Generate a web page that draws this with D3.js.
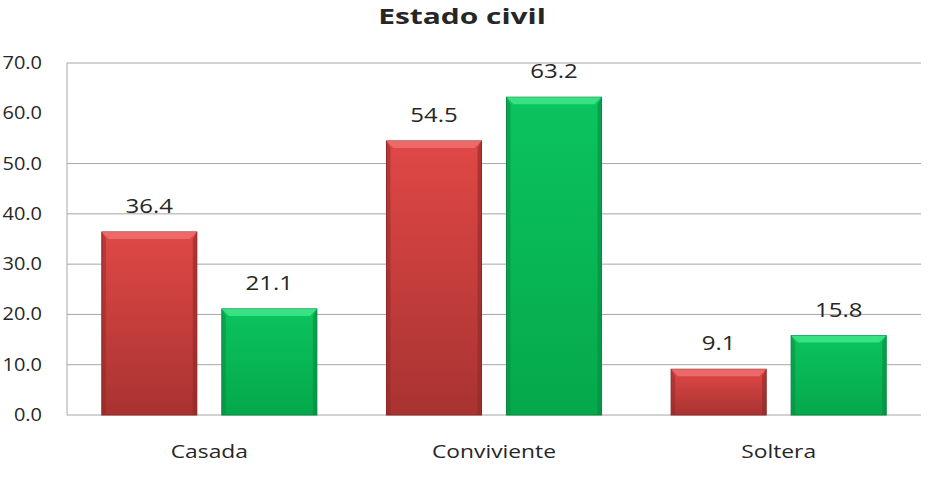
<!DOCTYPE html>
<html>
<head>
<meta charset="utf-8">
<script src="https://cdn.jsdelivr.net/npm/d3@7"></script>
<style>
  body { margin: 0; background: #fff; }
  text { font-family: 'Open Sans', sans-serif; fill: #262626; }
</style>
</head>
<body>
<div id="chart"></div>
<script>
const categories = ['Casada', 'Conviviente', 'Soltera'];
const seriesNames = ['s1', 's2'];
const valuesRed = [36.4, 54.5, 9.1];
const valuesGreen = [21.1, 63.2, 15.8];
const yTicks = [0, 10, 20, 30, 40, 50, 60, 70];
const gridTicks = [0, 10, 20, 30, 40, 50, 70]; // 60 line is not drawn in the original

const w = 933, h = 479;
const margin = { top: 63, right: 12, bottom: 64, left: 67 };
const stretch = 1.2; // the source image is stretched horizontally

const svg = d3.select('#chart').append('svg').attr('width', w).attr('height', h);
const defs = svg.append('defs');

const gradients = {
  s1: ['#e04846', '#a83331'],
  s2: ['#0bc45e', '#05a84c'],
};
Object.entries(gradients).forEach(([k, c]) => {
  const g = defs.append('linearGradient').attr('id', 'g-' + k)
    .attr('x1', 0).attr('y1', 0).attr('x2', 0).attr('y2', 1);
  g.append('stop').attr('offset', '0%').attr('stop-color', c[0]);
  g.append('stop').attr('offset', '100%').attr('stop-color', c[1]);
});
const edge = { s1: '#8e2a28', s2: '#078a40' };
const light = { s1: '#f07070', s2: '#3fe88a' };

const x0 = d3.scaleBand().domain(categories).range([margin.left, w - margin.right]).padding(0);
const x1 = d3.scaleBand().domain(seriesNames).range([0, x0.bandwidth()])
  .paddingInner(0.208).paddingOuter(0.29);
const y = d3.scaleLinear().domain([0, 70]).range([h - margin.bottom, margin.top]);

const place = (x, yy, s = stretch) => `translate(${x},${yy}) scale(${s},1)`;

// grid
svg.append('g').selectAll('line').data(gridTicks).enter().append('line')
  .attr('x1', margin.left).attr('x2', w - margin.right)
  .attr('y1', d => y(d)).attr('y2', d => y(d))
  .attr('stroke', '#a6a6a6').attr('stroke-width', 1);
svg.append('line')
  .attr('x1', margin.left).attr('x2', margin.left)
  .attr('y1', y(0)).attr('y2', y(70))
  .attr('stroke', '#a6a6a6');

// y labels (kept a bit narrower so they fit inside the frame)
svg.append('g').selectAll('text').data(yTicks).enter().append('text')
  .attr('transform', d => place(42, y(d) + 6, 1.05))
  .attr('text-anchor', 'end').attr('font-size', 19)
  .text(d => d.toFixed(1));

const rows = categories.map((c, i) => ({ cat: c, vals: [
  { key: 's1', v: valuesRed[i] }, { key: 's2', v: valuesGreen[i] }] }));

const groups = svg.append('g').selectAll('g').data(rows).enter().append('g')
  .attr('transform', d => `translate(${x0(d.cat)},0)`);

const bars = groups.selectAll('g').data(d => d.vals).enter().append('g');
const bw = x1.bandwidth();
const bev = 7;

bars.append('rect')
  .attr('x', d => x1(d.key)).attr('y', d => y(d.v))
  .attr('width', bw).attr('height', d => y(0) - y(d.v))
  .attr('fill', d => `url(#g-${d.key})`)
  .attr('stroke', d => edge[d.key]).attr('stroke-width', 1);

// top bevel
bars.append('path')
  .attr('d', d => {
    const xl = x1(d.key), xr = xl + bw, yt = y(d.v);
    const hh = Math.min(bev, (y(0) - yt) / 2);
    return `M${xl},${yt}L${xr},${yt}L${xr - bev},${yt + hh}L${xl + bev},${yt + hh}Z`;
  })
  .attr('fill', d => light[d.key]).attr('opacity', 0.85);
// side shading
bars.append('path')
  .attr('d', d => {
    const xl = x1(d.key), yt = y(d.v), yb = y(0);
    return `M${xl},${yt}L${xl + 4},${yt + bev}L${xl + 4},${yb}L${xl},${yb}Z`;
  })
  .attr('fill', d => edge[d.key]).attr('opacity', 0.5);
bars.append('path')
  .attr('d', d => {
    const xr = x1(d.key) + bw, yt = y(d.v), yb = y(0);
    return `M${xr},${yt}L${xr - 4},${yt + bev}L${xr - 4},${yb}L${xr},${yb}Z`;
  })
  .attr('fill', d => edge[d.key]).attr('opacity', 0.6);

// value labels
bars.append('text')
  .attr('transform', d => place(x1(d.key) + bw / 2, y(d.v) - 19))
  .attr('text-anchor', 'middle').attr('font-size', 20)
  .text(d => d.v.toFixed(1));

// category labels
svg.append('g').selectAll('text').data(categories).enter().append('text')
  .attr('transform', d => place(x0(d) + x0.bandwidth() / 2, 458))
  .attr('text-anchor', 'middle').attr('font-size', 19)
  .text(d => d);

// title
svg.append('text')
  .attr('transform', `translate(462,24) scale(1.36,1)`)
  .attr('text-anchor', 'middle').attr('font-size', 22).attr('font-weight', 'bold')
  .text('Estado civil');
</script>
</body>
</html>
